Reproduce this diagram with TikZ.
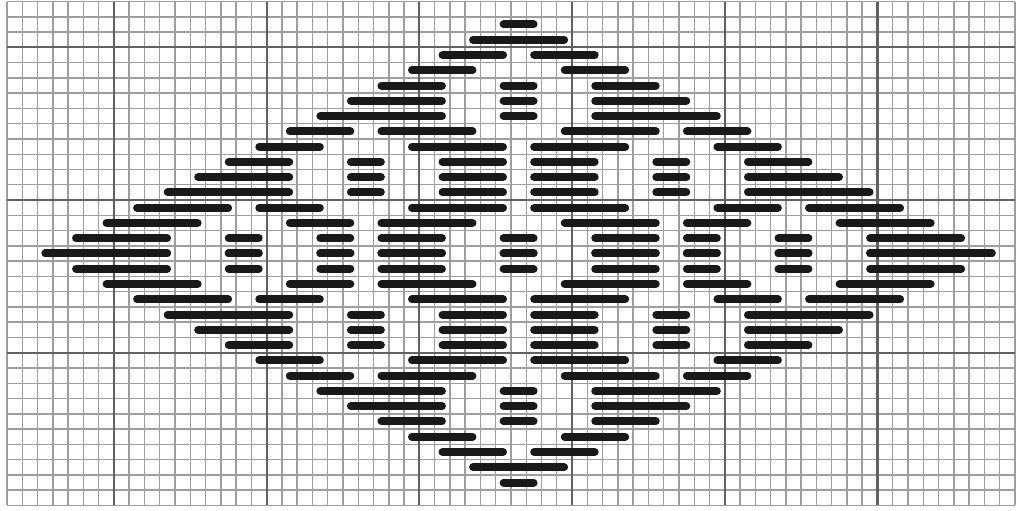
\documentclass[tikz,border=0pt]{standalone}
\usepackage{xcolor}
\usepackage{tikz}

\begin{document}
\begin{tikzpicture}[
      x=3mm, y=-3mm,
      minorline/.style={draw=black!38, line width=0.8pt},
      majorline/.style={draw=black!62, line width=1.2pt},
      stitch/.style={draw=black!90, line width=1.57mm, line cap=round}
    ]
      \useasboundingbox[fill=white] (-0.46,-0.1) rectangle (66.4,33.36);

      % graph paper
      \foreach \i in {0,...,66}
        \draw[minorline] (\i,0) -- (\i,33);
      \foreach \j in {0,...,33}
        \draw[minorline] (0,\j) -- (66,\j);
      \foreach \i in {7,17,...,57}
        \draw[majorline] (\i,0) -- (\i,33);
      \foreach \j in {3,13,23}
        \draw[majorline] (0,\j) -- (66,\j);

      % stitches, rows 1-16 (rows 17-31 mirror them)
      \foreach \r/\segs in {
          1/{32/35},
          2/{30/37},
          3/{28/33,34/39},
          4/{26/31,36/41},
          5/{24/29,32/35,38/43},
          6/{22/29,32/35,38/45},
          7/{20/29,32/35,38/47},
          8/{18/23,24/31,36/43,44/49},
          9/{16/21,26/33,34/41,46/51},
          10/{14/19,22/25,28/33,34/39,42/45,48/53},
          11/{12/19,22/25,28/33,34/39,42/45,48/55},
          12/{10/19,22/25,28/33,34/39,42/45,48/57},
          13/{8/15,16/21,26/33,34/41,46/51,52/59},
          14/{6/13,18/23,24/31,36/43,44/49,54/61},
          15/{4/11,14/17,20/23,24/29,32/35,38/43,44/47,50/53,56/63},
          16/{2/11,14/17,20/23,24/29,32/35,38/43,44/47,50/53,56/65}} {
        \pgfmathtruncatemacro\m{32-\r}
        \foreach \a/\b in \segs {
          \draw[stitch] (\a+0.52,\r+0.5) -- (\b-0.52,\r+0.5);
          \draw[stitch] (\a+0.52,\m+0.5) -- (\b-0.52,\m+0.5);
        }
      }
    \end{tikzpicture}
\end{document}
